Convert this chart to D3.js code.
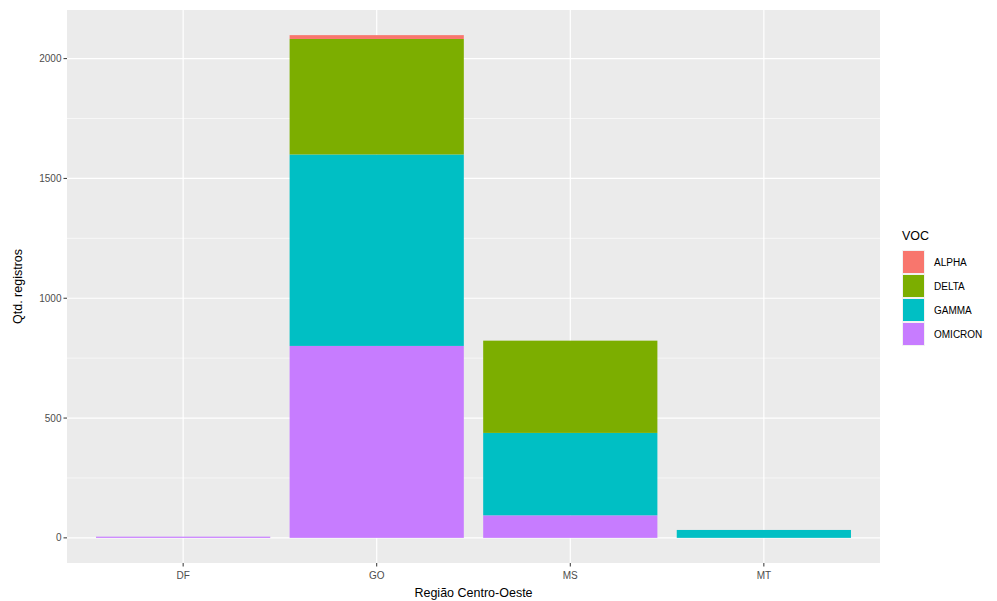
<!DOCTYPE html>
<html><head><meta charset="utf-8">
<script src="https://cdn.jsdelivr.net/npm/d3@7/dist/d3.min.js"></script>
<style>body{margin:0;background:#fff;} svg{display:block;font-family:"Liberation Sans",Arial,sans-serif;}</style>
</head><body>
<svg id="c" width="997" height="601"></svg>
<script>
const categories = ["DF", "GO", "MS", "MT"];
const variants = ["ALPHA", "DELTA", "GAMMA", "OMICRON"];
const alpha   = [0, 16, 0, 0];
const delta   = [0, 482, 385, 0];
const gamma   = [0, 799, 344, 33];
const omicron = [5, 801, 94, 0];
const yTicks = [0, 500, 1000, 1500, 2000];
const colors = ["#F8766D", "#7CAE00", "#00BFC4", "#C77CFF"];

const series = {ALPHA: alpha, DELTA: delta, GAMMA: gamma, OMICRON: omicron};
const rows = categories.map((c, i) => {
  const r = {cat: c};
  variants.forEach(v => r[v] = series[v][i]);
  return r;
});
// ggplot stacks in reverse legend order: OMICRON at bottom
const stack = d3.stack().keys(variants.slice().reverse())(rows);

const svg = d3.select("#c");
const P = {l: 67, r: 880, t: 10, b: 563};
const maxV = d3.max(rows, r => d3.sum(variants, v => r[v]));
const y = d3.scaleLinear().domain([-0.05 * maxV, 1.05 * maxV]).range([P.b, P.t]);
const xb = d3.scaleBand().domain(categories).range([P.l, P.r]).paddingInner(0.1).paddingOuter(0.6 - 0.05);
// compute centers like ggplot: step = width/(n-1+1.2)
const step = (P.r - P.l) / (categories.length - 1 + 1.2);
const xc = c => P.l + (0.6 + categories.indexOf(c)) * step;
const bw = 0.9 * step;
const color = d3.scaleOrdinal().domain(variants).range(colors);

svg.append("rect").attr("x", P.l).attr("y", P.t).attr("width", P.r - P.l).attr("height", P.b - P.t).attr("fill", "#EBEBEB");
// minor grid
const minor = yTicks.slice(0, -1).map(t => t + 250).concat([2250]).filter(t => y(t) > P.t);
svg.append("g").selectAll("line").data(minor).join("line")
  .attr("x1", P.l).attr("x2", P.r).attr("y1", d => y(d)).attr("y2", d => y(d))
  .attr("stroke", "#fff").attr("stroke-width", 0.6);
svg.append("g").selectAll("line").data(yTicks).join("line")
  .attr("x1", P.l).attr("x2", P.r).attr("y1", d => y(d)).attr("y2", d => y(d))
  .attr("stroke", "#fff").attr("stroke-width", 1.2);
svg.append("g").selectAll("line").data(categories).join("line")
  .attr("x1", d => xc(d)).attr("x2", d => xc(d)).attr("y1", P.t).attr("y2", P.b)
  .attr("stroke", "#fff").attr("stroke-width", 1.2);

// bars
svg.append("g").selectAll("g").data(stack).join("g")
  .attr("fill", d => color(d.key))
  .selectAll("rect").data(d => d).join("rect")
  .attr("x", d => xc(d.data.cat) - bw / 2).attr("width", bw)
  .attr("y", d => y(d[1])).attr("height", d => Math.max(0, y(d[0]) - y(d[1])));

// y axis
const ya = svg.append("g");
ya.selectAll("line").data(yTicks).join("line")
  .attr("x1", P.l - 3.5).attr("x2", P.l).attr("y1", d => y(d)).attr("y2", d => y(d))
  .attr("stroke", "#333").attr("stroke-width", 1);
ya.selectAll("text").data(yTicks).join("text")
  .attr("x", P.l - 5.5).attr("y", d => y(d)).attr("dy", "0.35em")
  .attr("text-anchor", "end").attr("font-size", 10).attr("fill", "#4D4D4D").text(d => d);
// x axis
const xa = svg.append("g");
xa.selectAll("line").data(categories).join("line")
  .attr("x1", d => xc(d)).attr("x2", d => xc(d)).attr("y1", P.b).attr("y2", P.b + 3.5)
  .attr("stroke", "#333").attr("stroke-width", 1);
xa.selectAll("text").data(categories).join("text")
  .attr("x", d => xc(d)).attr("y", P.b + 16)
  .attr("text-anchor", "middle").attr("font-size", 10).attr("fill", "#4D4D4D").text(d => d);

svg.append("text").attr("x", (P.l + P.r) / 2).attr("y", 597).attr("text-anchor", "middle")
  .attr("font-size", 12.5).attr("fill", "#000").text("Região Centro-Oeste");
svg.append("text").attr("transform", `translate(22,${(P.t + P.b) / 2}) rotate(-90)`)
  .attr("text-anchor", "middle").attr("font-size", 12.5).attr("fill", "#000").text("Qtd. registros");

// legend
const lg = svg.append("g").attr("transform", "translate(902,0)");
lg.append("text").attr("x", 0).attr("y", 240).attr("font-size", 12.5).attr("fill", "#000").text("VOC");
const kh = 24;
const items = lg.selectAll("g.k").data(variants).join("g").attr("class", "k")
  .attr("transform", (d, i) => `translate(0,${250 + i * kh})`);
items.append("rect").attr("width", 23).attr("height", kh).attr("fill", "#F2F2F2");
items.append("rect").attr("x", 1).attr("y", 1).attr("width", 21).attr("height", kh - 2).attr("fill", d => color(d));
items.append("text").attr("x", 32).attr("y", kh / 2).attr("dy", "0.35em")
  .attr("font-size", 10).attr("fill", "#000").text(d => d);
</script>
</body></html>
